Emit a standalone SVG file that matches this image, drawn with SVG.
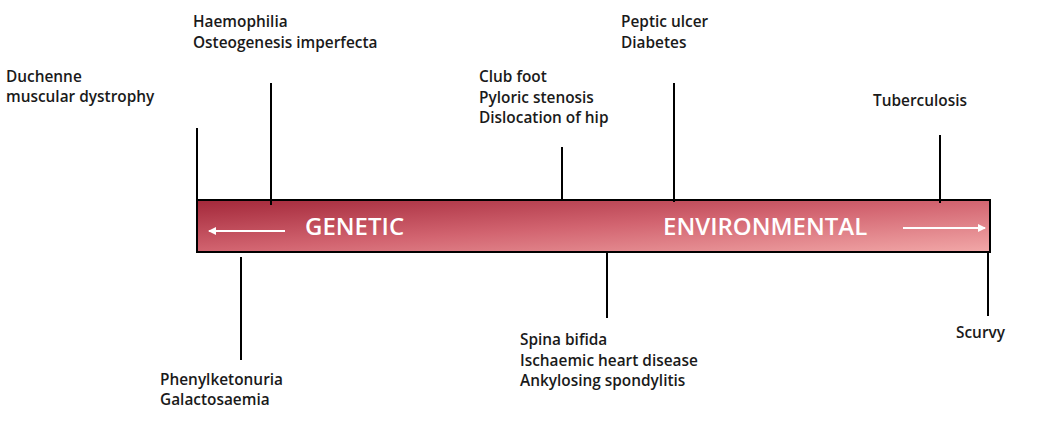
<svg xmlns="http://www.w3.org/2000/svg" width="1059" height="428" viewBox="0 0 1059 428">
<style>
.lbl{font-family:"Open Sans","Liberation Sans",sans-serif;font-size:15.4px;font-weight:600;fill:#1a1a1a}
.big{font-family:"Open Sans","Liberation Sans",sans-serif;font-size:24px;font-weight:600;fill:#ffffff}
.tick{stroke:#000;stroke-width:2;fill:none}
.arr{stroke:#fff;stroke-width:2;fill:none}
</style>
<defs>
<linearGradient id="barGrad" x1="0" y1="0" x2="1" y2="1">
<stop offset="0" stop-color="#a3283a"/>
<stop offset="0.5" stop-color="#d26470"/>
<stop offset="1" stop-color="#f2a8a8"/>
</linearGradient>
<marker id="ah" markerWidth="8" markerHeight="8" refX="7" refY="4" orient="auto" markerUnits="userSpaceOnUse">
<path d="M0,0 L8,4 L0,8 Z" fill="#fff"/>
</marker>
</defs>
<g id="bar">
<rect x="197" y="200" width="793" height="52" fill="url(#barGrad)" stroke="#000" stroke-width="2"/>
<text class="big" x="305" y="235">GENETIC</text>
<text class="big" x="663" y="235">ENVIRONMENTAL</text>
<line class="arr" x1="285" y1="231" x2="209" y2="231" marker-end="url(#ah)"/>
<line class="arr" x1="903" y1="228" x2="985" y2="228" marker-end="url(#ah)"/>
</g>
<g id="connectors">
<line class="tick" x1="197" y1="128" x2="197" y2="200"/>
<line class="tick" x1="271" y1="83" x2="271" y2="205"/>
<line class="tick" x1="562" y1="147" x2="562" y2="200"/>
<line class="tick" x1="674" y1="83" x2="674" y2="202"/>
<line class="tick" x1="940" y1="135" x2="940" y2="203"/>
<line class="tick" x1="241" y1="257" x2="241" y2="360"/>
<line class="tick" x1="607" y1="252" x2="607" y2="318"/>
<line class="tick" x1="988" y1="252" x2="988" y2="316"/>
</g>
<g id="duchenne"><text class="lbl" x="6" y="82">Duchenne</text><text class="lbl" x="6" y="102">muscular dystrophy</text></g>
<g id="haemophilia"><text class="lbl" x="193" y="27">Haemophilia</text><text class="lbl" x="193" y="48">Osteogenesis imperfecta</text></g>
<g id="clubfoot"><text class="lbl" x="479" y="82">Club foot</text><text class="lbl" x="479" y="103">Pyloric stenosis</text><text class="lbl" x="479" y="123">Dislocation of hip</text></g>
<g id="peptic"><text class="lbl" x="621" y="27">Peptic ulcer</text><text class="lbl" x="621" y="48">Diabetes</text></g>
<g id="tuberculosis"><text class="lbl" x="873" y="106">Tuberculosis</text></g>
<g id="phenylketonuria"><text class="lbl" x="160" y="385">Phenylketonuria</text><text class="lbl" x="160" y="405">Galactosaemia</text></g>
<g id="spina"><text class="lbl" x="520" y="345">Spina bifida</text><text class="lbl" x="520" y="366">Ischaemic heart disease</text><text class="lbl" x="520" y="386">Ankylosing spondylitis</text></g>
<g id="scurvy"><text class="lbl" x="956" y="338">Scurvy</text></g>
</svg>
